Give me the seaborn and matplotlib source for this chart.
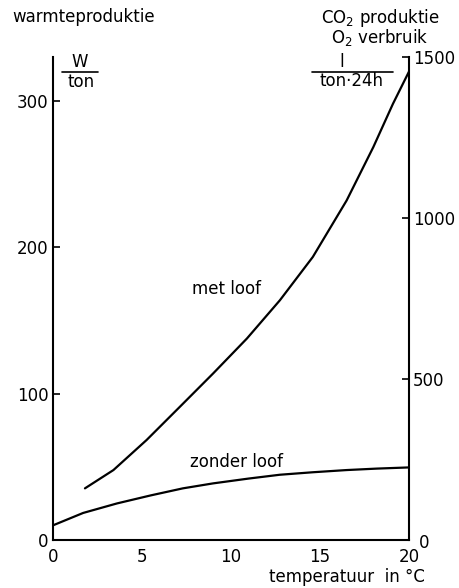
import pandas as pd
import seaborn as sns
import matplotlib.pyplot as plt
from matplotlib.lines import Line2D

sns.set_theme(style="white")
plt.rcParams['font.family'] = ['DejaVu Sans']
plt.rcParams['text.color'] = 'black'

# curve values (W/ton on the left scale)
temp_met = [1.8, 3.4, 5.26, 7.13, 9.0, 10.9, 12.75, 14.6, 16.5, 18.0, 19.1, 20.0]
met_loof = [35.3, 47.8, 68.3, 91, 113.8, 137.7, 163.8, 193.4, 232, 268.5, 298, 320]

temp_zonder = [0, 1.7, 3.6, 5.5, 7.3, 9.0, 11.0, 12.75, 14.6, 16.5, 18.2, 20.0]
zonder_loof = [10, 18.5, 25, 30.5, 35.3, 38.7, 42, 44.6, 46.3, 47.8, 48.8, 49.6]

x_ticks = [0, 5, 10, 15, 20]
left_ticks = [0, 100, 200, 300]
right_ticks = [0, 500, 1000, 1500]

df_met = pd.DataFrame({'T': temp_met, 'W': met_loof})
df_zonder = pd.DataFrame({'T': temp_zonder, 'W': zonder_loof})

fig = plt.figure(figsize=(4.6, 5.88), dpi=100)
ax = fig.add_axes([0.115, 0.0816, 0.774, 0.8214])

sns.lineplot(data=df_met, x='T', y='W', ax=ax, color='black', linewidth=1.6)
sns.lineplot(data=df_zonder, x='T', y='W', ax=ax, color='black', linewidth=1.6)

ax.set_xlim(0, 20)
ax.set_ylim(0, 330)
ax.set_xticks(x_ticks)
ax.set_yticks(left_ticks)
ax.set_xlabel('')
ax.set_ylabel('')

ax2 = ax.twinx()
ax2.set_ylim(0, 1500)
ax2.set_yticks(right_ticks)
# the 0 of the right scale sits a little apart in the original, drawn below
ax2.set_yticklabels([''] + [str(t) for t in right_ticks[1:]])

for a in (ax, ax2):
    a.spines['top'].set_visible(False)
    for s in a.spines.values():
        s.set_linewidth(1.5)
        s.set_color('black')
ax.spines['right'].set_visible(False)
ax2.spines['left'].set_visible(False)
ax2.spines['bottom'].set_visible(False)

ax.tick_params(axis='both', direction='in', length=5, width=1.2, color='black',
               labelsize=12, labelcolor='black', pad=3)
ax.tick_params(axis='x', pad=6)
ax2.tick_params(axis='y', direction='in', length=5, width=1.2, color='black',
                labelsize=12, labelcolor='black', pad=3)

ax2.annotate(str(right_ticks[0]), xy=(20, 0), xytext=(11, -2), textcoords='offset points',
             fontsize=12, ha='center', va='center', color='black')

# curve labels
ax.text(7.8, 171.5, 'met loof', fontsize=12, va='center', ha='left')
ax.text(7.7, 53, 'zonder loof', fontsize=12, va='center', ha='left')

# axis titles and units
fig.text(12 / 460, 1 - 17 / 588, 'warmteproduktie', fontsize=12, ha='left', va='center')
fig.text(80 / 460, 1 - 62 / 588, 'W', fontsize=12, ha='center', va='center')
fig.text(81 / 460, 1 - 82 / 588, 'ton', fontsize=12, ha='center', va='center')
fig.add_artist(Line2D([62 / 460, 98 / 460], [1 - 72 / 588, 1 - 72 / 588],
                      color='black', linewidth=1.2))

fig.text(380 / 460, 1 - 18 / 588, 'CO$_2$ produktie', fontsize=12, ha='center', va='center')
fig.text(380 / 460, 1 - 38 / 588, 'O$_2$ verbruik', fontsize=12, ha='center', va='center')
fig.text(342 / 460, 1 - 62 / 588, 'l', fontsize=12, ha='center', va='center')
fig.text(351 / 460, 1 - 81 / 588, 'ton·24h', fontsize=12, ha='center', va='center')
fig.add_artist(Line2D([312 / 460, 393 / 460], [1 - 72 / 588, 1 - 72 / 588],
                      color='black', linewidth=1.2))

fig.text(425 / 460, 1 - 577 / 588, 'temperatuur  in °C', fontsize=12, ha='right', va='center')

fig.savefig('out.png', dpi=100, facecolor='white')
